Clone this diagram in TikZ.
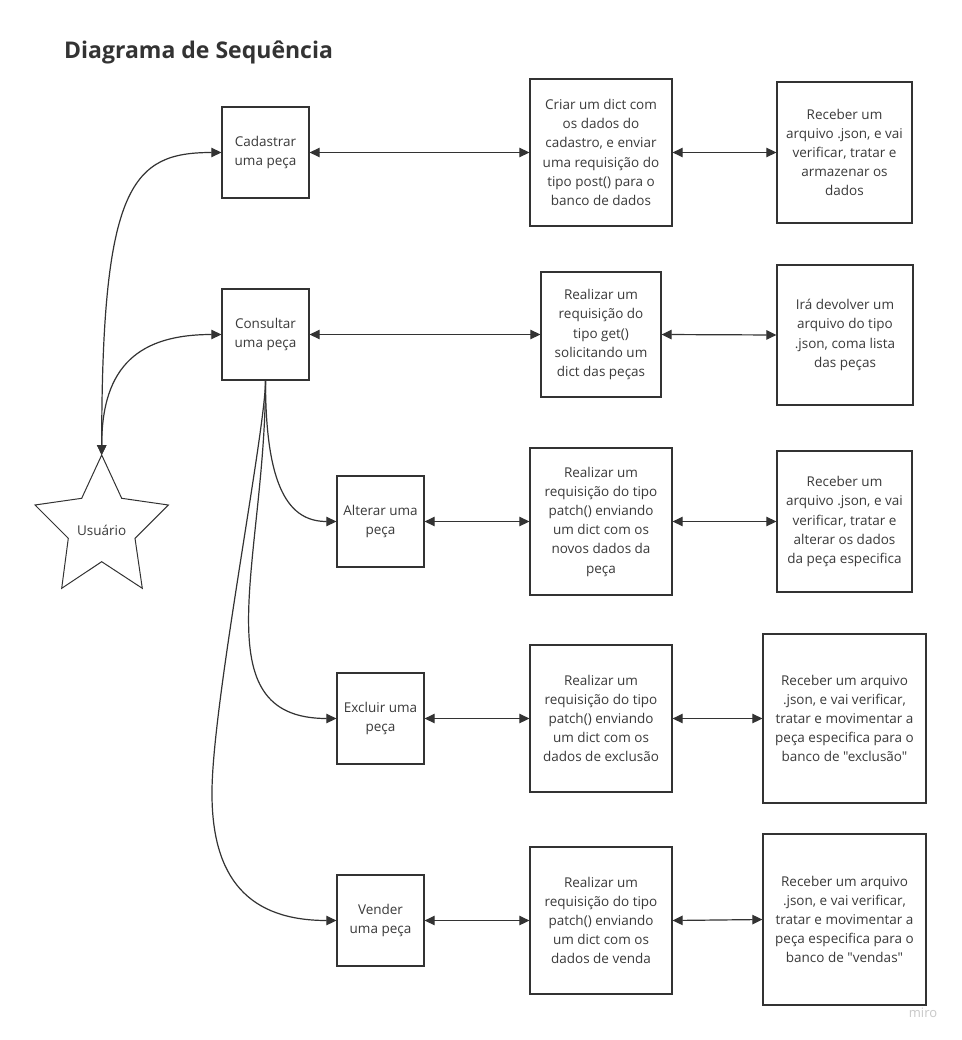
\documentclass[tikz,border=0pt]{standalone}
\usepackage{fontspec}
\setmainfont{Open Sans}[Ligatures=TeXOff]
\usetikzlibrary{arrows.meta}
\definecolor{ink}{HTML}{333333}
\definecolor{txt}{HTML}{3A3A3A}
\definecolor{wm}{HTML}{C8C8C8}
\tikzset{
  box/.style={draw=ink, line width=1.3pt, fill=white, inner sep=0pt, align=center,
    font=\fontsize{13.5}{19.2}\selectfont, text=txt},
  conn/.style={draw=ink, line width=1.2pt},
  onehead/.style={conn, -{Triangle[length=10pt,width=9.5pt]}},
  twohead/.style={conn, {Triangle[length=10pt,width=9.5pt]}-{Triangle[length=10pt,width=9.5pt]}}
}
\begin{document}
\begin{tikzpicture}[x=1pt,y=-1pt]
\useasboundingbox[fill=white] (0,0) rectangle (961,1040);
% title
\node[anchor=base west, inner sep=0pt, font=\fontsize{23}{28}\selectfont\bfseries, text=ink] (title) at (64,59) {Diagrama de Sequência};
% row 1
\node[box, minimum width=87pt, minimum height=91pt] (cad) at (265.5,152.5) {Cadastrar\\uma peça};
\node[box, minimum width=142pt, minimum height=147pt] (criar) at (601,152.5) {Criar um dict com\\os dados do\\cadastro, e enviar\\uma requisição do\\tipo post() para o\\banco de dados};
\node[box, minimum width=135pt, minimum height=141pt] (rec1) at (844.5,152.5) {Receber um\\arquivo .json, e vai\\verificar, tratar e\\armazenar os\\dados};
% row 2
\node[box, minimum width=87pt, minimum height=91pt] (cons) at (265.5,334.5) {Consultar\\uma peça};
\node[box, minimum width=120pt, minimum height=125pt] (get) at (601,334.5) {Realizar um\\requisição do\\tipo get()\\solicitando um\\dict das peças};
\node[box, minimum width=136pt, minimum height=140pt] (ira) at (845,335) {Irá devolver um\\arquivo do tipo\\.json, coma lista\\das peças};
% row 3
\node[box, minimum width=87pt, minimum height=91pt] (alt) at (380.5,521.5) {Alterar uma\\peça};
\node[box, minimum width=142pt, minimum height=147pt] (patA) at (601,521.5) {Realizar um\\requisição do tipo\\patch() enviando\\um dict com os\\novos dados da\\peça};
\node[box, minimum width=135pt, minimum height=141pt] (recA) at (844.5,521.5) {Receber um\\arquivo .json, e vai\\verificar, tratar e\\alterar os dados\\da peça especifica};
% row 4
\node[box, minimum width=87pt, minimum height=91pt] (exc) at (380.5,718.5) {Excluir uma\\peça};
\node[box, minimum width=142pt, minimum height=147pt] (patE) at (601,718.5) {Realizar um\\requisição do tipo\\patch() enviando\\um dict com os\\dados de exclusão};
\node[box, minimum width=163pt, minimum height=169pt] (recE) at (844.5,718.5) {Receber um arquivo\\.json, e vai verificar,\\tratar e movimentar a\\peça especifica para o\\banco de "exclusão"};
% row 5
\node[box, minimum width=87pt, minimum height=91pt] (ven) at (380.5,920.5) {Vender\\uma peça};
\node[box, minimum width=142pt, minimum height=147pt] (patV) at (601,920.5) {Realizar um\\requisição do tipo\\patch() enviando\\um dict com os\\dados de venda};
\node[box, minimum width=163pt, minimum height=171pt] (recV) at (844.5,919.5) {Receber um arquivo\\.json, e vai verificar,\\tratar e movimentar a\\peça especifica para o\\banco de "vendas"};
% star (user)
\draw[draw=ink, line width=1pt, fill=white] (101.7,455) -- (121.7,498.3) -- (168.3,505) -- (135,538.3) -- (142.3,588.3) -- (101.7,561.7) -- (61.7,588.3) -- (68.3,538.3) -- (35,505) -- (81.7,498.3) -- cycle;
\coordinate (utop) at (101.7,455);
\node[font=\fontsize{13.5}{19.2}\selectfont, text=txt, inner sep=0pt] (user) at (101.7,530) {Usuário};
% horizontal connectors
\draw[twohead] (cad.east) -- (criar.west);
\draw[twohead] (criar.east) -- (rec1.west);
\draw[twohead] (cons.east) -- (get.west);
\draw[twohead] (get.east) -- (ira.west);
\draw[twohead] (alt.east) -- (patA.west);
\draw[twohead] (patA.east) -- (recA.west);
\draw[twohead] (exc.east) -- (patE.west);
\draw[twohead] (patE.east) -- (recE.west);
\draw[twohead] (ven.east) -- (patV.west);
\draw[twohead] (patV.east) -- (recV.west);
% user curves
\draw[twohead] (utop) .. controls (101.7,185) and (132,152.5) .. (cad.west);
\draw[twohead] (utop) .. controls (101.7,365) and (140,334.5) .. (cons.west);
% consult branches
\draw[onehead] (cons.south) .. controls (265.5,490) and (290,521.5) .. (alt.west);
\draw[onehead] (cons.south) .. controls (265.5,560) and (200,718.5) .. (exc.west);
\coordinate (vmid) at (212,790);
\draw[onehead] (cons.south) .. controls (265.5,430) and (213,700) .. (vmid) .. controls (211,880) and (250,920.5) .. (ven.west);
% watermark
\node[font=\fontsize{13}{15}\selectfont, text=wm, inner sep=0pt] (miro) at (923,1013) {miro};
\end{tikzpicture}
\end{document}
